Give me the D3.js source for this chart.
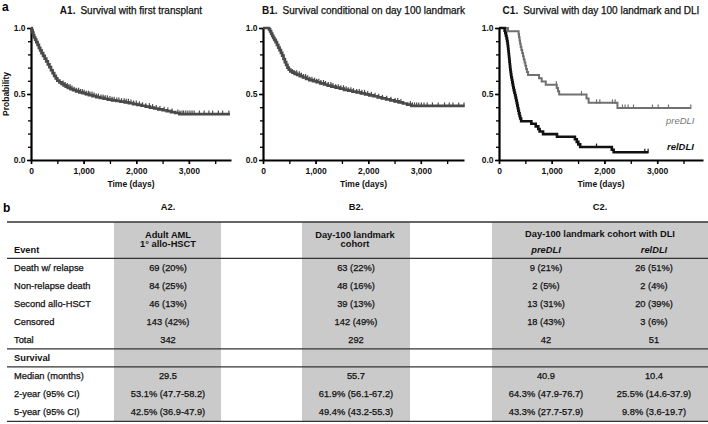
<!DOCTYPE html>
<html><head><meta charset="utf-8">
<script src="https://cdn.jsdelivr.net/npm/d3@7"></script>
<style>
body{margin:0;background:#fff;}
svg{display:block;font-family:"Liberation Sans",Arial,sans-serif;}
.thick{stroke:#111;stroke-width:0.25px;}
</style></head><body>
<svg id="c" width="708" height="424"></svg>
<script>
// ---------- DATA ----------
const timeTicks = [0, 1000, 2000, 3000];
const timeMinor = [0, 500, 1000, 1500, 2000, 2500, 3000, 3500];
const probTicks = [0, 0.5, 1.0];
const probMinor = [0,0.1,0.2,0.3,0.4,0.5,0.6,0.7,0.8,0.9,1.0];

const a1Curve = [[0,1],[15,0.985],[30,0.965],[45,0.945],[60,0.928],[80,0.912],[100,0.893],[125,0.872],[150,0.85],[175,0.83],[200,0.81],[230,0.789],[260,0.768],[290,0.747],[320,0.724],[350,0.703],[380,0.68],[410,0.658],[440,0.637],[470,0.618],[500,0.602],[540,0.588],[580,0.576],[620,0.565],[660,0.556],[700,0.547],[750,0.537],[800,0.529],[860,0.52],[920,0.512],[980,0.506],[1040,0.499],[1100,0.492],[1170,0.484],[1240,0.477],[1310,0.47],[1380,0.464],[1460,0.458],[1540,0.452],[1620,0.447],[1700,0.442],[1780,0.437],[1860,0.431],[1940,0.424],[2020,0.418],[2100,0.411],[2180,0.404],[2260,0.397],[2340,0.39],[2420,0.383],[2500,0.377],[2580,0.371],[2660,0.363],[2740,0.356],[2820,0.348],[3780,0.348]];
const a1Censor = [610,650,690,720,745,780,820,860,905,940,975,1010,1050,1090,1120,1160,1200,1240,1280,1330,1370,1410,1450,1500,1540,1580,1630,1670,1720,1770,1810,1850,1900,1950,2000,2060,2120,2180,2250,2310,2380,2450,2530,2600,2680,2790,2830,2870,2900,2940,2980,3020,3060,3100,3200,3290,3380,3450,3560,3640,3760];

const b1Curve = [[0,1],[100,1],[115,0.99],[135,0.975],[155,0.958],[175,0.94],[195,0.925],[215,0.91],[240,0.893],[265,0.872],[290,0.852],[315,0.832],[340,0.812],[365,0.79],[390,0.765],[415,0.742],[440,0.72],[465,0.70],[490,0.685],[520,0.672],[560,0.662],[600,0.653],[650,0.645],[700,0.635],[760,0.625],[820,0.615],[880,0.605],[950,0.597],[1020,0.589],[1090,0.58],[1160,0.572],[1230,0.564],[1300,0.556],[1380,0.548],[1460,0.54],[1540,0.532],[1620,0.525],[1700,0.518],[1780,0.512],[1860,0.505],[1940,0.497],[2020,0.49],[2100,0.483],[2180,0.475],[2260,0.467],[2340,0.46],[2420,0.452],[2500,0.444],[2580,0.436],[2660,0.428],[2740,0.42],[2820,0.41],[3830,0.41]];
const b1Censor = [560,600,640,690,730,770,810,850,890,930,980,1020,1060,1100,1150,1190,1240,1290,1330,1380,1430,1480,1530,1580,1620,1670,1720,1780,1830,1880,1930,1990,2060,2130,2200,2270,2350,2430,2510,2560,2620,2800,2840,2880,2920,2960,3010,3060,3120,3220,3330,3450,3540,3610,3720,3820];

const preCurve = [[0,1],[171,0.976],[372,0.952],[380,0.929],[390,0.905],[400,0.881],[412,0.857],[425,0.833],[440,0.81],[455,0.786],[470,0.762],[485,0.738],[500,0.714],[515,0.69],[530,0.667],[551,0.643],[760,0.619],[810,0.595],[887,0.571],[1095,0.545],[1120,0.52],[1141,0.496],[1660,0.466],[1700,0.433],[2247,0.394],[3639,0.394]];
const preCensor = [1089,1565,1850,1913,2152,2203,2342,2392,2449,2551,2911,3019,3215,3639];

const relCurve = [[0,1],[107,0.98],[120,0.961],[132,0.941],[143,0.922],[153,0.902],[162,0.882],[168,0.863],[174,0.843],[179,0.824],[184,0.804],[189,0.784],[194,0.765],[199,0.745],[204,0.725],[209,0.706],[214,0.686],[220,0.667],[227,0.647],[234,0.627],[243,0.608],[252,0.588],[261,0.569],[270,0.549],[280,0.529],[292,0.51],[304,0.49],[315,0.471],[326,0.451],[337,0.431],[347,0.412],[357,0.392],[367,0.373],[378,0.353],[390,0.333],[402,0.314],[420,0.294],[614,0.275],[697,0.255],[745,0.235],[770,0.216],[836,0.196],[1100,0.176],[1440,0.157],[1475,0.137],[1505,0.118],[1540,0.098],[2140,0.078],[2175,0.059],[2829,0.059]];
const relCensor = [1850,2766,2829];

const eventLabels = ["Death w/ relapse","Non-relapse death","Second allo-HSCT","Censored","Total"];
const a2Events = ["69 (20%)","84 (25%)","46 (13%)","143 (42%)","342"];
const b2Events = ["63 (22%)","48 (16%)","39 (13%)","142 (49%)","292"];
const preEvents = ["9 (21%)","2 (5%)","13 (31%)","18 (43%)","42"];
const relEvents = ["26 (51%)","2 (4%)","20 (39%)","3 (6%)","51"];
const survLabels = ["Median (months)","2-year (95% CI)","5-year (95% CI)"];
const a2Surv = ["29.5","53.1% (47.7-58.2)","42.5% (36.9-47.9)"];
const b2Surv = ["55.7","61.9% (56.1-67.2)","49.4% (43.2-55.3)"];
const preSurv = ["40.9","64.3% (47.9-76.7)","43.3% (27.7-57.9)"];
const relSurv = ["10.4","25.5% (14.6-37.9)","9.8% (3.6-19.7)"];

// ---------- DRAW ----------
const svg = d3.select("#c");
const y = d3.scaleLinear().domain([0,1]).range([160,28]);

svg.append("text").attr("x",2).attr("y",11).attr("font-size",12).attr("font-weight","bold").text("a");

const panels = [
  {tag:"A1.", title:"Survival with first transplant", x0:31, x1:231, tmax:3800, ylab:true,
   series:[{c:a1Curve, cens:a1Censor, color:"#4a4a4a", w:2.7}]},
  {tag:"B1.", title:"Survival conditional on day 100 landmark", x0:263, x1:464, tmax:3820,
   series:[{c:b1Curve, cens:b1Censor, color:"#4a4a4a", w:2.7}]},
  {tag:"C1.", title:"Survival with day 100 landmark and DLI", x0:499, x1:703, tmax:3870,
   series:[{c:preCurve, cens:preCensor, color:"#707070", w:2},
           {c:relCurve, cens:relCensor, color:"#111", w:2.6}]}
];

panels.forEach(p => {
  const x = d3.scaleLinear().domain([0,p.tmax]).range([p.x0,p.x1]);
  const g = svg.append("g");
  g.append("g").attr("transform",`translate(${p.x0},0)`)
    .call(d3.axisLeft(y).tickValues(probMinor).tickSize(3).tickSizeOuter(0).tickFormat(""))
    .call(a=>a.select(".domain").remove())
    .call(a=>a.selectAll("line").attr("stroke","#000").attr("stroke-width",1.3));
  g.append("g").attr("transform",`translate(0,160)`)
    .call(d3.axisBottom(x).tickValues(timeMinor).tickSize(4).tickSizeOuter(0).tickFormat(""))
    .call(a=>a.select(".domain").remove())
    .call(a=>a.selectAll("line").attr("stroke","#000").attr("stroke-width",1.3));
  const ya = g.append("g").attr("transform",`translate(${p.x0},0)`)
    .call(d3.axisLeft(y).tickValues(probTicks).tickSize(4).tickSizeOuter(0).tickPadding(1.5).tickFormat(d3.format(".1f")));
  const xa = g.append("g").attr("transform",`translate(0,160)`)
    .call(d3.axisBottom(x).tickValues(timeTicks).tickSize(4).tickSizeOuter(0).tickPadding(3.5).tickFormat(d3.format(",")));
  [ya,xa].forEach(a=>{
    a.select(".domain").attr("stroke","#000").attr("stroke-width",2.2);
    a.selectAll("line").attr("stroke","#000").attr("stroke-width",1.5);
    a.selectAll("text").attr("font-size",8.5).attr("font-weight","bold").attr("fill","#111")
      .attr("font-family","Liberation Sans, Arial, sans-serif");
  });
  const cx = (p.x0+p.x1)/2;
  const t = g.append("text").attr("x",cx).attr("y",13.5).attr("text-anchor","middle").attr("font-size",10).attr("fill","#111");
  t.append("tspan").attr("font-weight","bold").text(p.tag);
  t.append("tspan").attr("dx",5).attr("class","thick").text(p.title);
  g.append("text").attr("x",cx).attr("y",187).attr("text-anchor","middle").attr("font-size",8.5)
    .attr("font-weight","bold").attr("fill","#111").text("Time (days)");
  if (p.ylab) g.append("text").attr("transform",`translate(9,94) rotate(-90)`).attr("text-anchor","middle")
    .attr("font-size",8.5).attr("font-weight","bold").attr("fill","#111").text("Probability");
  const line = d3.line().x(d=>x(d[0])).y(d=>y(d[1])).curve(d3.curveStepAfter);
  const bis = d3.bisector(d=>d[0]).right;
  p.series.forEach(s=>{
    g.append("path").attr("d",line(s.c)).attr("fill","none").attr("stroke",s.color)
      .attr("stroke-width",s.w).attr("stroke-linejoin","miter");
    g.selectAll(null).data(s.cens).join("line")
      .attr("x1",d=>x(d)).attr("x2",d=>x(d))
      .attr("y1",d=>y(s.c[Math.max(0,bis(s.c,d)-1)][1])-3.5)
      .attr("y2",d=>y(s.c[Math.max(0,bis(s.c,d)-1)][1])+1)
      .attr("stroke",s.color).attr("stroke-width",1.2);
  });
});
svg.append("text").attr("x",666).attr("y",124).attr("font-size",9.5).attr("font-style","italic")
  .attr("fill","#777").text("preDLI");
svg.append("text").attr("x",667).attr("y",150).attr("font-size",9.5).attr("font-style","italic")
  .attr("font-weight","bold").attr("fill","#111").text("relDLI");

// ---------- TABLE ----------
const T = svg.append("g").attr("font-size",9.3).attr("fill","#111");
svg.append("text").attr("x",3).attr("y",212).attr("font-size",12).attr("font-weight","bold").text("b");

const colX = d3.scaleOrdinal().domain(["A2","B2","pre","rel"]).range([168,356,546,654]);
const rowKeys = eventLabels.concat(["Survival"], survLabels);
const rowY = d3.scaleBand().domain(rowKeys).range([258.3,421.3]);

const grayCols = [[114,221],[302,410],[492,708]];
T.selectAll("rect.g").data(grayCols).join("rect")
  .attr("x",d=>d[0]).attr("width",d=>d[1]-d[0]).attr("y",222).attr("height",421.3-222).attr("fill","#cacaca");

const rules = [222, 258.3, rowY("Survival"), rowY(survLabels[0]), 421.3];
T.selectAll("line.r").data(rules).join("line")
  .attr("x1",7).attr("x2",708).attr("y1",d=>d).attr("y2",d=>d).attr("stroke","#333").attr("stroke-width",1.3);

const H = T.append("g").attr("font-weight","bold").attr("text-anchor","middle");
[["A2.",168],["B2.",356],["C2.",600]].forEach(h=>H.append("text").attr("x",h[1]).attr("y",209.5).text(h[0]));
H.append("text").attr("x",168).attr("y",237.5).text("Adult AML");
H.append("text").attr("x",168).attr("y",247).text("1° allo-HSCT");
H.append("text").attr("x",355).attr("y",237.5).text("Day-100 landmark");
H.append("text").attr("x",355).attr("y",247).text("cohort");
H.append("text").attr("x",600).attr("y",236.5).text("Day-100 landmark cohort with DLI");
H.append("text").attr("x",colX("pre")).attr("y",252.5).attr("font-style","italic").text("preDLI");
H.append("text").attr("x",colX("rel")).attr("y",252.5).attr("font-style","italic").text("relDLI");
T.append("text").attr("x",14).attr("y",252.5).attr("font-weight","bold").text("Event");

const mid = k => rowY(k) + rowY.bandwidth()/2;
rowKeys.forEach(k=>{
  T.append("text").attr("x",14).attr("y",mid(k)).attr("dy","0.35em")
    .attr("font-weight", k==="Survival"?"bold":"normal").attr("class", k==="Survival"?null:"thick").text(k);
});
const cols = [["A2",a2Events,a2Surv],["B2",b2Events,b2Surv],["pre",preEvents,preSurv],["rel",relEvents,relSurv]];
cols.forEach(([c,ev,sv])=>{
  ev.forEach((v,i)=>T.append("text").attr("class","thick").attr("x",colX(c)).attr("y",mid(eventLabels[i])).attr("dy","0.35em").attr("text-anchor","middle").text(v));
  sv.forEach((v,i)=>T.append("text").attr("class","thick").attr("x",colX(c)).attr("y",mid(survLabels[i])).attr("dy","0.35em").attr("text-anchor","middle").text(v));
});
</script>
</body></html>
